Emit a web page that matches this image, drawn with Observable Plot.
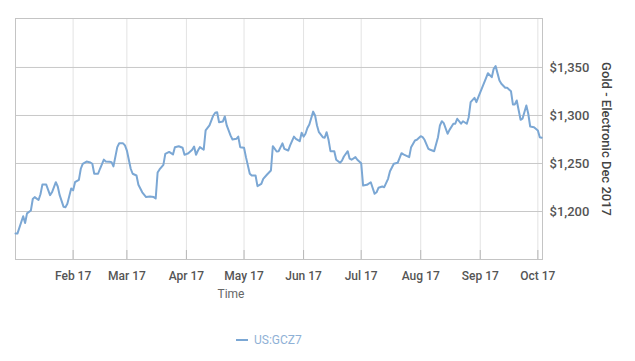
<!DOCTYPE html>
<html>
<head>
<meta charset="utf-8">
<script src="https://cdn.jsdelivr.net/npm/d3@7"></script>
<script src="https://cdn.jsdelivr.net/npm/@observablehq/plot@0.6"></script>
<style>
  html, body { margin: 0; padding: 0; background: #fff; }
  #wrap { position: relative; width: 635px; height: 361px; overflow: hidden; font-family: Roboto, "Noto Sans", sans-serif; }
  #legend { position: absolute; left: 236px; top: 331px; height: 18px; display: flex; align-items: center; font-size: 12px; color: #8fb1d6; }
  #legend .sw { display: inline-block; width: 12px; height: 2px; background: #7ba7d4; margin-right: 6px; }
</style>
</head>
<body>
<div id="wrap">
  <div id="chart"></div>
  <div id="legend"><span class="sw"></span><span>US:GCZ7</span></div>
</div>
<script>
const seriesName = "US:GCZ7";
const yLabel = "Gold - Electronic Dec 2017";
const xLabel = "Time";

const dates = [
  "2017-01-02","2017-01-03","2017-01-06","2017-01-07","2017-01-08","2017-01-10","2017-01-11","2017-01-12",
  "2017-01-14","2017-01-15","2017-01-16","2017-01-18","2017-01-20","2017-01-21","2017-01-23","2017-01-24",
  "2017-01-25","2017-01-27","2017-01-28","2017-01-29","2017-01-31","2017-02-01","2017-02-02","2017-02-04",
  "2017-02-05","2017-02-06","2017-02-08","2017-02-10","2017-02-11","2017-02-12","2017-02-14","2017-02-15",
  "2017-02-17","2017-02-18","2017-02-20","2017-02-21","2017-02-22","2017-02-24","2017-02-25","2017-02-27",
  "2017-02-28","2017-03-01","2017-03-03","2017-03-04","2017-03-06","2017-03-07","2017-03-09","2017-03-11",
  "2017-03-13","2017-03-15","2017-03-16","2017-03-17","2017-03-18","2017-03-20","2017-03-21","2017-03-23",
  "2017-03-25","2017-03-26","2017-03-28","2017-03-30","2017-03-31","2017-04-02","2017-04-04","2017-04-05",
  "2017-04-06","2017-04-07","2017-04-08","2017-04-10","2017-04-11","2017-04-13","2017-04-15","2017-04-16",
  "2017-04-17","2017-04-18","2017-04-20","2017-04-21","2017-04-22","2017-04-24","2017-04-25","2017-04-27",
  "2017-04-28","2017-04-29","2017-05-01","2017-05-02","2017-05-04","2017-05-05","2017-05-07","2017-05-08",
  "2017-05-10","2017-05-11","2017-05-13","2017-05-15","2017-05-16","2017-05-18","2017-05-19","2017-05-21",
  "2017-05-22","2017-05-24","2017-05-25","2017-05-27","2017-05-28","2017-05-30","2017-05-31","2017-06-01",
  "2017-06-02","2017-06-03","2017-06-04","2017-06-06","2017-06-07","2017-06-08","2017-06-09","2017-06-11",
  "2017-06-12","2017-06-13","2017-06-14","2017-06-15","2017-06-17","2017-06-18","2017-06-20","2017-06-21",
  "2017-06-22","2017-06-24","2017-06-25","2017-06-26","2017-06-28","2017-06-29","2017-07-01","2017-07-02",
  "2017-07-04","2017-07-06","2017-07-08","2017-07-09","2017-07-10","2017-07-12","2017-07-13","2017-07-15",
  "2017-07-16","2017-07-18","2017-07-20","2017-07-22","2017-07-23","2017-07-26","2017-07-27","2017-07-29",
  "2017-07-30","2017-08-01","2017-08-02","2017-08-03","2017-08-05","2017-08-06","2017-08-08","2017-08-10",
  "2017-08-11","2017-08-12","2017-08-13","2017-08-15","2017-08-16","2017-08-18","2017-08-19","2017-08-20",
  "2017-08-22","2017-08-23","2017-08-25","2017-08-26","2017-08-27","2017-08-29","2017-08-30","2017-08-31",
  "2017-09-02","2017-09-04","2017-09-05","2017-09-07","2017-09-08","2017-09-09","2017-09-11","2017-09-12",
  "2017-09-14","2017-09-15","2017-09-17","2017-09-18","2017-09-19","2017-09-20","2017-09-22","2017-09-23",
  "2017-09-25","2017-09-26","2017-09-27","2017-09-29","2017-10-01","2017-10-02","2017-10-03"
];
const prices = [
  1177,1177,1195,1188,1198,1201,1213,1215,
  1212,1218,1228,1228,1217,1220,1230.5,1226,
  1217,1205,1204.5,1208,1224,1222,1230.5,1233,
  1244.5,1249.7,1252,1251,1249.7,1239.3,1239.3,1244.5,
  1254,1252,1251.8,1251.4,1247,1267,1271,1271,
  1268.8,1263.5,1244.5,1239.3,1237.5,1227.8,1220,1215,
  1215.6,1215,1213.5,1240.6,1243.8,1248.6,1260,1262,
  1259.4,1267,1268,1266.4,1259,1260.7,1264.3,1267.7,
  1259,1263.5,1267,1264.3,1284.4,1289.6,1300,1302.8,
  1303.4,1293,1293.8,1299,1289.6,1279,1275,1275.7,
  1278,1267,1266.4,1256.6,1239.3,1237.5,1237.5,1226.4,
  1228.8,1234,1238.5,1242.7,1268,1262.5,1262.8,1271,
  1265.3,1263.5,1268.8,1278,1275.7,1273.2,1282,1278,
  1281,1287,1290.6,1304,1300,1289.6,1282.6,1277.4,
  1276.8,1282.6,1274.7,1262.8,1262.8,1253.9,1250.7,1253,
  1257.3,1262.8,1255,1253.9,1256.6,1253.9,1250.3,1227,
  1227.8,1230.5,1218.4,1220,1224.7,1226,1225.3,1234,
  1242,1249.7,1250.7,1260.7,1259.4,1256.6,1267,1274,
  1274.7,1278.4,1277.4,1274.7,1265.3,1264.3,1262.8,1277.4,
  1289.6,1294,1292,1281,1285,1291.4,1291.4,1296.6,
  1291.4,1294,1291.4,1298.2,1313.9,1318.4,1313.9,1319,
  1328.9,1338.9,1344,1339.9,1348.6,1351.4,1336.5,1333,
  1328.9,1328.9,1325.3,1311.5,1311.5,1315.6,1295.5,1296.6,
  1310.4,1301.8,1288.5,1287.8,1284.4,1277.4,1276.8
];
const monthTicks = ["2017-02-01","2017-03-01","2017-04-01","2017-05-01","2017-06-01","2017-07-01","2017-08-01","2017-09-01","2017-10-01"];
const yTicks = [1200, 1250, 1300, 1350];

const data = dates.map((d, i) => ({date: new Date(d), price: prices[i]}));
const xt = monthTicks.map(d => new Date(d));

const chart = Plot.plot({
  width: 635,
  height: 310,
  marginLeft: 15,
  marginRight: 93,
  marginTop: 18,
  marginBottom: 51,
  style: {fontFamily: "Roboto, 'Noto Sans', sans-serif", background: "#fff", color: "#555"},
  x: {type: "utc", domain: [new Date("2017-01-02"), new Date("2017-10-03T10:00:00Z")]},
  y: {domain: [1150, 1401]},
  marks: [
    Plot.gridX(xt, {stroke: "#e3e3e3", strokeOpacity: 1}),
    Plot.gridY(yTicks, {stroke: "#c8c8c8", strokeOpacity: 1}),
    Plot.ruleX(xt, {x: d => d, stroke: "#b8b8b8", insetTop: 232}),
    Plot.frame({stroke: "#c4c4c4"}),
    Plot.lineY(data, {x: "date", y: "price", stroke: "#7ba7d4", strokeWidth: 2}),
    Plot.axisY(yTicks, {anchor: "right", tickSize: 0, tickPadding: 7, tickFormat: d3.format("$,"), label: null, fontSize: 13, fontWeight: 500, fill: "#555"}),
    Plot.axisX(xt, {tickSize: 0, tickPadding: 12, tickFormat: d3.utcFormat("%b %y"), label: null, fontSize: 12, fontWeight: 500, fill: "#555"}),
    Plot.text([xLabel], {frameAnchor: "bottom", dx: -48, dy: 38, fontSize: 12, fill: "#666"}),
    Plot.text([yLabel], {frameAnchor: "right", dx: 64, rotate: 90, textAnchor: "middle", lineAnchor: "middle", fontSize: 13, fontWeight: 500, fill: "#444"})
  ]
});
document.getElementById("chart").appendChild(chart);
</script>
</body>
</html>
